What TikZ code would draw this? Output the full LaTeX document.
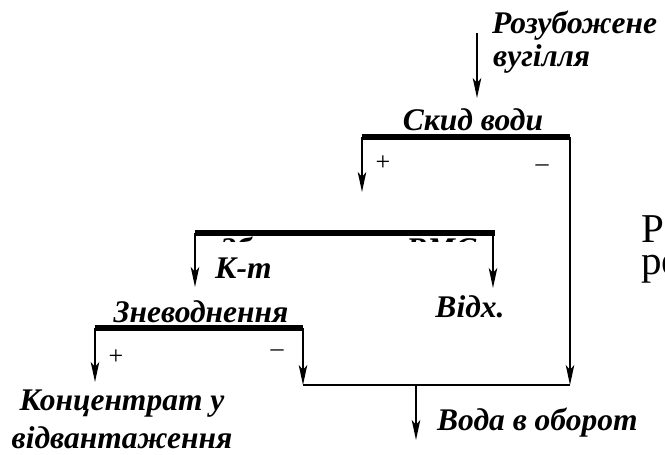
\documentclass[tikz,border=0pt]{standalone}
\usepackage{fontspec}
\setmainfont{Liberation Serif}
\usetikzlibrary{arrows.meta}

\begin{document}
\begin{tikzpicture}[x=1pt,y=1pt,
  lbl/.style={font=\fontsize{31.5}{38}\selectfont\bfseries\itshape,inner sep=0pt},
  sign/.style={font=\fontsize{26}{30}\selectfont,inner sep=0pt},
  bar/.style={line width=5.2pt},
  flow/.style={line width=2pt,-{Stealth[length=20pt,width=8.5pt,inset=5pt]}},
  pipe/.style={line width=2pt}]
  \useasboundingbox (0,0) rectangle (665,-455);
  % feed
  \node[lbl,anchor=base west] (feed) at (492,-33) {Розубожене};
  \node[lbl,anchor=base west] (feedb) at (493,-66) {вугілля};
  \coordinate (fin) at (477,-33);
  \coordinate (fout) at (477,-98);
  \draw[flow] (fin) -- (fout);
  % Скид води
  \coordinate (dl) at (362,-137);
  \coordinate (dr) at (570,-137);
  \coordinate (dp) at (362,-192);
  \draw[bar] (dl) -- (dr);
  \node[lbl,anchor=base] (drain) at (473,-130) {Скид води};
  \draw[flow] (dl) -- (dp);
  \node[sign] (dplus) at (383,-163) {+};
  \node[sign] (dminus) at (542,-168) {--};
  % middle stage
  \coordinate (ml) at (195,-233);
  \coordinate (mr) at (495,-233);
  \coordinate (mrr) at (493,-233);
  \coordinate (mp) at (195,-287);
  \coordinate (mm) at (493,-288);
  \draw[bar] (ml) -- (mr);
  \begin{scope}
    \clip (200,-236) rectangle (490,-241.5);
    \node[lbl,anchor=north west] (mid) at (220,-236.5) {Збагачення в ВМС};
  \end{scope}
  \draw[flow] (ml) -- (mp);
  \draw[flow] (mrr) -- (mm);
  \node[lbl,anchor=base west] (conc) at (215,-278) {К-т};
  \node[lbl,anchor=base] (tail) at (470,-317) {Відх.};
  % Зневоднення
  \coordinate (zl) at (95,-328);
  \coordinate (zr) at (303,-328);
  \coordinate (zp) at (95,-382);
  \coordinate (zm) at (303,-385);
  \draw[bar] (zl) -- (zr);
  \node[lbl,anchor=base] (dew) at (201,-322) {Зневоднення};
  \draw[flow] (zl) -- (zp);
  \draw[flow] (zr) -- (zm);
  \node[sign] (zplus) at (116,-357) {+};
  \node[sign] (zminus) at (277,-353) {--};
  \node[lbl,align=center] (prod) at (122,-419) {Концентрат у\\відвантаження};
  % water
  \coordinate (wr) at (570,-385);
  \coordinate (wj) at (416,-385);
  \coordinate (wo) at (416,-440);
  \draw[flow] (dr) -- (wr);
  \draw[pipe] (zm) -- (wr);
  \draw[flow] (wj) -- (wo);
  \node[lbl,anchor=base west] (water) at (437,-430) {Вода в оборот};
  % caption, cut by the edge
  \node[font=\fontsize{41}{44}\selectfont,inner sep=0pt,anchor=base west] (capa) at (641,-242) {Р};
  \node[font=\fontsize{41}{44}\selectfont,inner sep=0pt,anchor=base west] (capb) at (641,-274) {ре};
\end{tikzpicture}
\end{document}
